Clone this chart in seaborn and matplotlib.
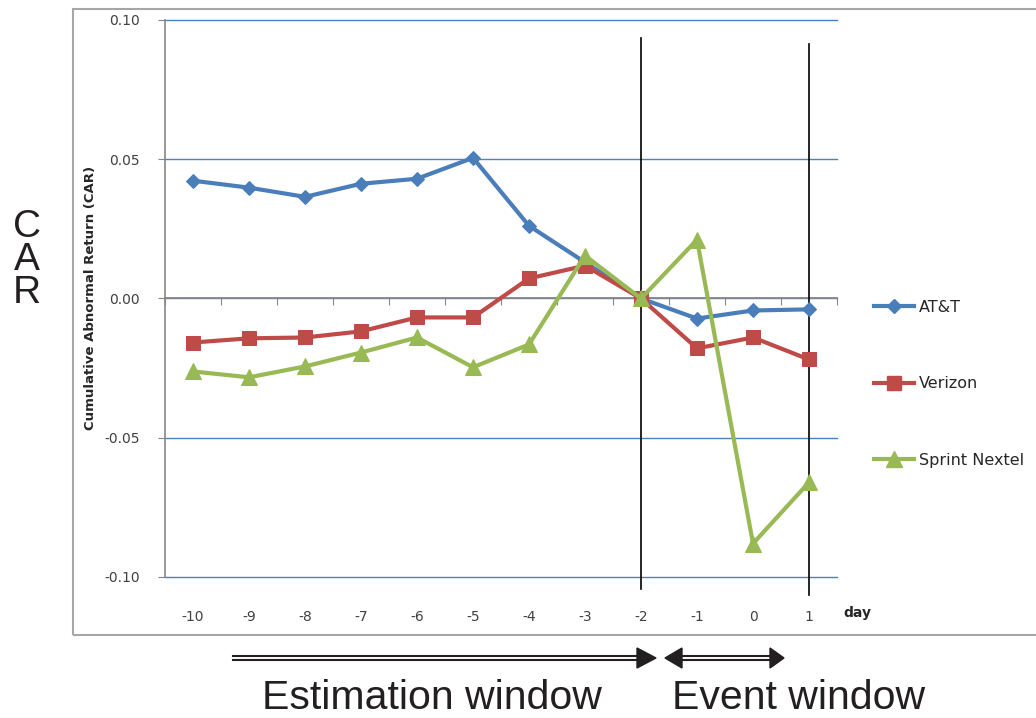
import numpy as np
import pandas as pd
import matplotlib
matplotlib.use("Agg")
import matplotlib.pyplot as plt
from matplotlib.lines import Line2D
from matplotlib.patches import Rectangle, Polygon
import seaborn as sns

# data
days = [-10, -9, -8, -7, -6, -5, -4, -3, -2, -1, 0, 1]
att = [0.0423, 0.0398, 0.0365, 0.0412, 0.0430, 0.0505, 0.0261, 0.0130, 0.0, -0.0072, -0.0043, -0.0039]
verizon = [-0.0158, -0.0143, -0.0140, -0.0118, -0.0068, -0.0068, 0.0072, 0.0118, 0.0, -0.0179, -0.0140, -0.0219]
sprint = [-0.0262, -0.0283, -0.0244, -0.0194, -0.0140, -0.0247, -0.0165, 0.0154, 0.0, 0.0211, -0.0880, -0.0660]
firms = ["AT&T", "Verizon", "Sprint Nextel"]
yticks = [-0.10, -0.05, 0.00, 0.05, 0.10]
ytick_labels = ["-0.10", "-0.05", "0.00", "0.05", "0.10"]
window_days = [-2, 1]

colors = {"AT&T": "#4A7EBB", "Verizon": "#BE4B48", "Sprint Nextel": "#98B954"}
markers = {"AT&T": "D", "Verizon": "s", "Sprint Nextel": "^"}
msizes = {"D": 7.5, "s": 10, "^": 11}

df = pd.DataFrame({
    "day": days * 3,
    "CAR": att + verizon + sprint,
    "firm": [f for f in firms for _ in days],
})

W, H = 1036, 718
fig = plt.figure(figsize=(W / 100, H / 100), dpi=100)


def px(x, y):
    # pixel position (top-left origin) -> figure fraction
    return x / W, 1 - y / H


# outer chart frame
fig.add_artist(Rectangle(px(73, 635), (1045 - 73) / W, (635 - 9) / H,
                         transform=fig.transFigure, fill=False,
                         edgecolor="#A6A6A6", lw=1.5))

ax = fig.add_axes([165 / W, 1 - 577 / H, 672 / W, 557 / H])

sns.lineplot(data=df, x="day", y="CAR", hue="firm", style="firm",
             hue_order=firms, style_order=firms, palette=colors,
             markers=markers, dashes=False, linewidth=3, errorbar=None,
             legend=False, ax=ax)

for line in ax.lines:
    line.set_markeredgecolor(line.get_color())
    line.set_markersize(msizes.get(line.get_marker(), 8))
    line.set_zorder(5)

ax.set_xlim(days[0] - 0.5, days[-1] + 0.5)
ax.set_ylim(-0.1, 0.1)
ax.set_yticks(yticks, ytick_labels)
ax.yaxis.grid(True, color="#4F81BD", lw=1)
for g in ax.get_ygridlines():
    g.set_clip_on(False)
ax.set_axisbelow(True)
ax.set_xlabel("")
ax.set_ylabel("")

for s in ["top", "right"]:
    ax.spines[s].set_visible(False)
ax.spines["left"].set_color("#868686")
ax.spines["left"].set_linewidth(1.2)
ax.spines["bottom"].set_position(("data", 0))
ax.spines["bottom"].set_color("#868686")
ax.spines["bottom"].set_linewidth(1.3)
ax.spines["bottom"].set_zorder(3)

bounds = np.arange(days[0] - 0.5, days[-1] + 1, 1.0)
ax.set_xticks(bounds)
ax.tick_params(axis="x", length=5, color="#868686", labelbottom=False)
ax.tick_params(axis="y", length=5, color="#868686", pad=13,
               labelsize=10, labelcolor="#404040")

sec = ax.secondary_xaxis("bottom")
sec.set_xticks(days, [str(d) for d in days])
sec.tick_params(length=0, pad=24, labelsize=10, labelcolor="#404040")
sec.spines["bottom"].set_visible(False)

# window boundaries
ax.axvline(window_days[0], ymin=-0.022, ymax=0.968, color="black", lw=1.2,
           clip_on=False, zorder=4)
ax.axvline(window_days[1], ymin=-0.032, ymax=0.957, color="black", lw=1.2,
           clip_on=False, zorder=4)

# legend
handles = [Line2D([], [], color=colors[f], marker=markers[f], lw=3,
                  markersize=msizes[markers[f]], markeredgecolor=colors[f])
           for f in firms]
fig.legend(handles, firms, loc="upper left", bbox_to_anchor=px(866, 292),
           frameon=False, borderpad=0, labelspacing=3.85, handlelength=2.5,
           handletextpad=0.3, fontsize=11.5, labelcolor="#262626")

fig.text(*px(91, 298), "Cumulative Abnormal Return (CAR)", rotation=90,
         ha="center", va="center", fontsize=9.5, fontweight="bold",
         color="#262626")
fig.text(*px(843, 613), "day", ha="left", va="center", fontsize=10,
         fontweight="bold", color="#262626")

# big CAR label, one letter per line
for letter, base in zip("CAR", [237, 270, 303]):
    fig.text(*px(27, base), letter, ha="center", va="baseline",
             fontsize=28, family="Liberation Sans", color="#231F20")


def shaft(x0, x1, y):
    for dy in (-2.3, 2.3):
        fig.add_artist(Line2D([x0 / W, x1 / W], [1 - (y + dy) / H] * 2,
                              transform=fig.transFigure, color="#231F20",
                              lw=1.5))


def head(xb, xt, y, h=10):
    pts = [px(xb, y - h), px(xt, y), px(xb, y + h)]
    fig.add_artist(Polygon(pts, closed=True, transform=fig.transFigure,
                           color="#231F20"))


shaft(233, 640, 658)
head(637, 656, 658)
shaft(680, 772, 658)
head(682, 665, 658)
head(770, 784, 658)

fig.text(*px(262, 709), "Estimation window", ha="left", va="baseline",
         fontsize=29.5, family="Liberation Sans", color="#231F20")
fig.text(*px(672, 709), "Event window", ha="left", va="baseline",
         fontsize=29.5, family="Liberation Sans", color="#231F20")

fig.savefig("out.png", dpi=100)
